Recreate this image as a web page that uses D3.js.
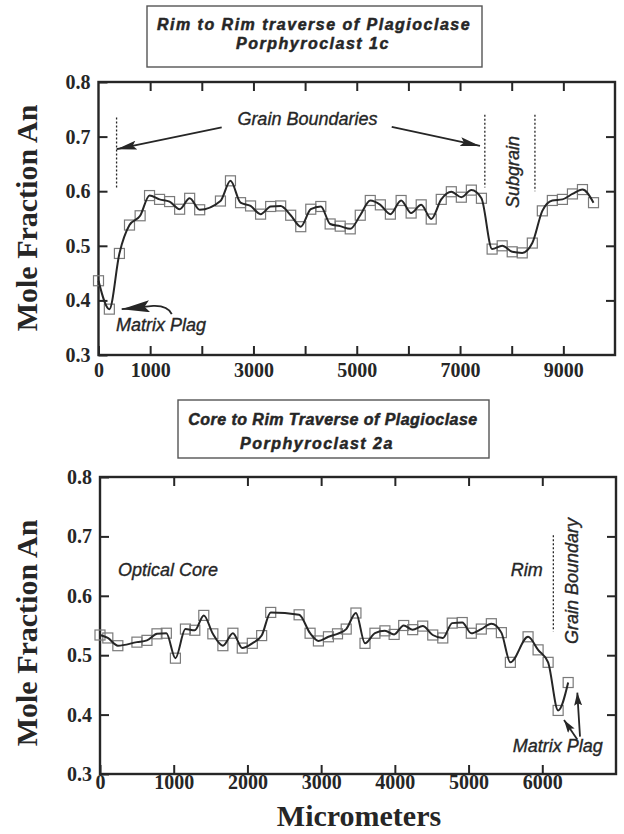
<!DOCTYPE html>
<html>
<head>
<meta charset="utf-8">
<script src="https://cdn.jsdelivr.net/npm/d3@7/dist/d3.min.js"></script>
<style>
  html, body { margin: 0; padding: 0; background: #fff; }
  svg { display: block; }
</style>
</head>
<body>
<svg id="chart" width="624" height="834"></svg>
<script>
// ---------------- DATA ----------------
// Top: Rim to Rim traverse, Porphyroclast 1c
const topDistance = [0, 210, 405, 600, 806, 988, 1182, 1376, 1571, 1765, 1959,
  2361, 2555, 2750, 2944, 3138, 3333, 3527, 3721, 3916, 4110, 4304, 4485, 4680, 4874,
  5068, 5262, 5457, 5651, 5859, 6053, 6248, 6442, 6636, 6831, 7025, 7219, 7414,
  7621, 7816, 8010, 8204, 8399, 8593, 8787, 8982, 9176, 9370, 9584];
const topAn = [0.436, 0.384, 0.486, 0.538, 0.555, 0.592, 0.585, 0.581, 0.567, 0.587, 0.566,
  0.582, 0.619, 0.579, 0.573, 0.558, 0.572, 0.573, 0.556, 0.535, 0.567, 0.572, 0.540, 0.536, 0.531,
  0.556, 0.583, 0.575, 0.558, 0.583, 0.560, 0.575, 0.549, 0.585, 0.599, 0.589, 0.602, 0.587,
  0.494, 0.500, 0.489, 0.487, 0.505, 0.564, 0.583, 0.585, 0.595, 0.603, 0.579];

// Bottom: Core to Rim traverse, Porphyroclast 2a
const botDistance = [0, 106, 242, 501, 637, 773, 900, 1023, 1159, 1286, 1408, 1531, 1667,
  1803, 1930, 2066, 2193, 2316, 2701, 2850, 2963, 3099, 3222, 3340, 3472, 3595, 3730,
  3865, 3990, 4120, 4242, 4378, 4514, 4650, 4778, 4914, 5037, 5173, 5309, 5445, 5567,
  5807, 5943, 6079, 6215, 6351];
const botAn = [0.534, 0.529, 0.516, 0.522, 0.525, 0.536, 0.537, 0.495, 0.544, 0.542, 0.567, 0.536, 0.516,
  0.537, 0.512, 0.520, 0.533, 0.572, 0.568, 0.537, 0.524, 0.531, 0.536, 0.544, 0.571, 0.520, 0.537,
  0.541, 0.535, 0.550, 0.543, 0.549, 0.534, 0.529, 0.554, 0.555, 0.537, 0.544, 0.553, 0.538, 0.488,
  0.531, 0.509, 0.488, 0.407, 0.454];

const yTickValues = [0.3, 0.4, 0.5, 0.6, 0.7, 0.8];
const topXTicks = [0, 1000, 2000, 3000, 4000, 5000, 6000, 7000, 8000, 9000];
const topXTickLabels = [0, 1000, 3000, 5000, 7000, 9000];
const botXTicks = [0, 1000, 2000, 3000, 4000, 5000, 6000];
const botXTickLabels = [0, 1000, 2000, 3000, 4000, 5000, 6000];

const topTitle = ["Rim to Rim traverse of Plagioclase", "Porphyroclast 1c"];
const botTitle = ["Core to Rim Traverse of Plagioclase", "Porphyroclast 2a"];
const yLabel = "Mole Fraction An";
const xLabel = "Micrometers";

// ---------------- DRAW ----------------
const svg = d3.select("#chart");
const INK = "#262626";
const SANS = "'Liberation Sans', Arial, Helvetica, sans-serif";
const SERIF = "'Liberation Serif', 'Times New Roman', serif";

const defs = svg.append("defs");
function arrowMarker(id, len, wid) {
  defs.append("marker")
    .attr("id", id)
    .attr("markerUnits", "userSpaceOnUse")
    .attr("markerWidth", len).attr("markerHeight", wid)
    .attr("refX", len).attr("refY", wid / 2)
    .attr("orient", "auto")
    .append("path")
    .attr("d", `M0,0 L${len},${wid / 2} L0,${wid} L${len * 0.18},${wid / 2} Z`)
    .attr("fill", INK);
}
arrowMarker("arrowMed", 20, 9);
arrowMarker("arrowBig", 28, 12);
arrowMarker("arrowSmall", 13, 8);

function drawPanel(cfg) {
  const { x, y, xs, ys, xTicks, xLabels, labelPad } = cfg;
  const g = svg.append("g");
  const [x0, x1] = x.range();
  const [y0, y1] = y.range(); // y0 bottom, y1 top

  // axes (inward ticks)
  g.append("g").attr("transform", `translate(0,${y0})`)
    .call(d3.axisBottom(x).tickValues(xTicks).tickSize(-9).tickPadding(labelPad)
      .tickFormat(d => xLabels.includes(d) ? String(d) : ""))
    .call(a => a.select(".domain").remove())
    .call(a => a.selectAll("line").attr("stroke", INK).attr("stroke-width", 2))
    .call(a => a.selectAll("text").attr("font-family", SERIF).attr("font-weight", "bold")
      .attr("font-size", 20).attr("fill", INK));
  g.append("g").attr("transform", `translate(0,${y1})`)
    .call(d3.axisTop(x).tickValues(xTicks.filter(d => d > 0)).tickSize(-9).tickFormat(""))
    .call(a => a.select(".domain").remove())
    .call(a => a.selectAll("line").attr("stroke", INK).attr("stroke-width", 2));
  g.append("g").attr("transform", `translate(${x0},0)`)
    .call(d3.axisLeft(y).tickValues(yTickValues).tickSize(-9).tickPadding(8)
      .tickFormat(d3.format(".1f")))
    .call(a => a.select(".domain").remove())
    .call(a => a.selectAll("line").attr("stroke", INK).attr("stroke-width", 2))
    .call(a => a.selectAll("text").attr("font-family", SERIF).attr("font-weight", "bold")
      .attr("font-size", 20).attr("fill", INK));
  g.append("g").attr("transform", `translate(${x1},0)`)
    .call(d3.axisRight(y).tickValues(yTickValues.slice(1, -1)).tickSize(-9).tickFormat(""))
    .call(a => a.select(".domain").remove())
    .call(a => a.selectAll("line").attr("stroke", INK).attr("stroke-width", 2));

  // frame
  g.append("rect")
    .attr("x", x0).attr("y", y1)
    .attr("width", x1 - x0).attr("height", y0 - y1)
    .attr("fill", "none").attr("stroke", INK).attr("stroke-width", 2.4);

  const pts = xs.map((d, i) => [d, ys[i]]);
  // markers
  g.append("g").selectAll("rect").data(pts).join("rect")
    .attr("x", d => x(d[0]) - 5).attr("y", d => y(d[1]) - 5)
    .attr("width", 10).attr("height", 10)
    .attr("fill", "none").attr("stroke", "#7a7a7a").attr("stroke-width", 1.2);
  // line
  g.append("path")
    .attr("d", d3.line().x(d => x(d[0])).y(d => y(d[1])).curve(d3.curveMonotoneX)(pts))
    .attr("fill", "none").attr("stroke", INK).attr("stroke-width", 2).attr("stroke-linejoin", "round");

  // y label
  svg.append("text")
    .attr("transform", `translate(${cfg.yLabelX},${cfg.yLabelY}) rotate(-90)`)
    .attr("text-anchor", "middle").attr("dominant-baseline", "central")
    .attr("font-family", SERIF).attr("font-weight", "bold").attr("font-size", 30)
    .attr("fill", INK).text(yLabel);
  return g;
}

function titleBox(box, lines, lineX, baselines, spacing) {
  svg.append("rect")
    .attr("x", box[0]).attr("y", box[1]).attr("width", box[2]).attr("height", box[3])
    .attr("fill", "none").attr("stroke", "#555").attr("stroke-width", 1.4);
  lines.forEach((t, i) => {
    svg.append("text")
      .attr("x", lineX[i]).attr("y", baselines[i])
      .attr("text-anchor", "middle")
      .attr("font-family", SANS).attr("font-weight", "bold").attr("font-style", "italic")
      .attr("font-size", 16).attr("letter-spacing", spacing[i])
      .attr("fill", INK).attr("stroke", INK).attr("stroke-width", 0.5)
      .text(t);
  });
}

function note(g, px, py, txt, opts = {}) {
  const t = g.append("text")
    .attr("font-family", SANS).attr("font-style", "italic").attr("font-size", 18)
    .attr("fill", INK).attr("stroke", INK).attr("stroke-width", 0.35)
    .attr("text-anchor", opts.anchor || "start")
    .attr("dominant-baseline", "central")
    .text(txt);
  if (opts.rotate) t.attr("transform", `translate(${px},${py}) rotate(-90)`);
  else t.attr("x", px).attr("y", py);
  return t;
}
function dotted(g, x, y, xv, ya, yb) {
  g.append("line")
    .attr("x1", x(xv)).attr("x2", x(xv)).attr("y1", y(ya)).attr("y2", y(yb))
    .attr("stroke", INK).attr("stroke-width", 1.3).attr("stroke-dasharray", "2,2");
}
function arrow(g, d, marker) {
  g.append("path").attr("d", d).attr("fill", "none")
    .attr("stroke", INK).attr("stroke-width", 1.8)
    .attr("marker-end", `url(#${marker})`);
}

// ---- Top panel ----
const xT = d3.scaleLinear().domain([0, 10000]).range([98.5, 615]);
const yT = d3.scaleLinear().domain([0.3, 0.8]).range([355, 82]);
titleBox([147, 6, 335, 61], topTitle, [314, 313], [29.5, 49], [1.5, 1.5]);
const gT = drawPanel({ x: xT, y: yT, xs: topDistance, ys: topAn,
  xTicks: topXTicks, xLabels: topXTickLabels, labelPad: 8, yLabelX: 26, yLabelY: 218 });

note(gT, xT(4045), yT(0.733), "Grain Boundaries", { anchor: "middle" });
dotted(gT, xT, yT, 350, 0.735, 0.605);
dotted(gT, xT, yT, 7480, 0.740, 0.607);
dotted(gT, xT, yT, 8450, 0.740, 0.600);
arrow(gT, `M${xT(2385)},${yT(0.717)} L${xT(352)},${yT(0.677)}`, "arrowMed");
arrow(gT, `M${xT(5677)},${yT(0.718)} L${xT(7386)},${yT(0.683)}`, "arrowMed");
note(gT, xT(8019), yT(0.635), "Subgrain", { anchor: "middle", rotate: true });
note(gT, xT(339), yT(0.355), "Matrix Plag");
arrow(gT, `M${xT(1418)},${yT(0.375)} Q${xT(1340)},${yT(0.391)} ${xT(1060)},${yT(0.39)} L${xT(449)},${yT(0.384)}`, "arrowBig");

// ---- Bottom panel ----
const xB = d3.scaleLinear().domain([0, 7000]).range([100, 616]);
const yB = d3.scaleLinear().domain([0.3, 0.8]).range([774, 477]);
titleBox([178, 400, 311, 58], botTitle, [333, 317], [424.5, 449], [0.45, 1.5]);
const gB = drawPanel({ x: xB, y: yB, xs: botDistance, ys: botAn,
  xTicks: botXTicks, xLabels: botXTickLabels, labelPad: 1, yLabelX: 26, yLabelY: 633 });

note(gB, xB(244), yB(0.643), "Optical Core");
note(gB, xB(5572), yB(0.643), "Rim");
dotted(gB, xB, yB, 6150, 0.702, 0.540);
note(gB, xB(6399), yB(0.625), "Grain Boundary", { anchor: "middle", rotate: true });
note(gB, xB(5599), yB(0.347), "Matrix Plag");
arrow(gB, `M${xB(6475)},${yB(0.358)} L${xB(6295)},${yB(0.391)}`, "arrowSmall");
arrow(gB, `M${xB(6512)},${yB(0.363)} L${xB(6475)},${yB(0.437)}`, "arrowSmall");

// x label
svg.append("text")
  .attr("x", 359).attr("y", 826)
  .attr("text-anchor", "middle")
  .attr("font-family", SERIF).attr("font-weight", "bold").attr("font-size", 30)
  .attr("fill", INK).text(xLabel);
</script>
</body>
</html>
